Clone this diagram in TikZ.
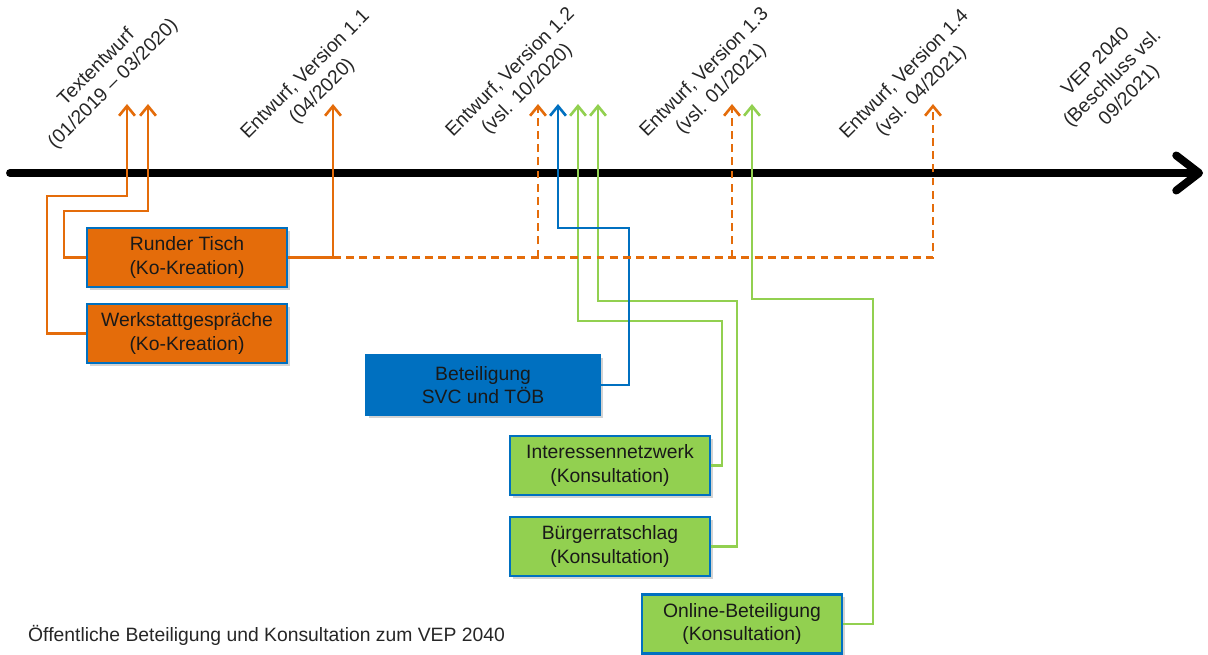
\documentclass[tikz,border=0pt]{standalone}
\usepackage{fontspec}
\setmainfont{Liberation Sans}
\usetikzlibrary{arrows.meta, positioning, shadows}

\definecolor{vepOrange}{HTML}{E46C0A}
\definecolor{vepBlue}{HTML}{0070C0}
\definecolor{vepGreen}{HTML}{92D050}

\begin{document}
\begin{tikzpicture}[
    x=0.02cm, y=-0.02cm,
    box/.style={rectangle, draw=vepBlue, line width=1.2pt, minimum width=4cm, minimum height=1.18cm, align=center, text=black!90, font=\fontsize{11}{13.5}\selectfont, drop shadow={opacity=0.35, shadow xshift=1.5pt, shadow yshift=-1.5pt}},
    kokreation/.style={box, fill=vepOrange},
    konsultation/.style={box, fill=vepGreen},
    beteiligung/.style={box, fill=vepBlue, minimum width=4.68cm, minimum height=1.2cm},
    milestone/.style={rotate=45, align=center, text=black!85, font=\fontsize{11}{13.5}\selectfont},
    pfeil/.style={line width=1.5pt, -{Straight Barb[length=5.5pt, width=9pt]}},
    opfeil/.style={pfeil, vepOrange},
    dpfeil/.style={opfeil, dash pattern=on 4.5pt off 3pt},
    bpfeil/.style={pfeil, vepBlue},
    gpfeil/.style={pfeil, vepGreen},
    zeitachse/.style={line width=4.5pt, line cap=round, -{Straight Barb[length=13pt, width=20pt, round]}}
]
    \useasboundingbox (0,0) rectangle (1208,655);

    % Zeitachse
    \coordinate (start) at (10,173);
    \coordinate (ende) at (1203,173);
    \draw[zeitachse] (start) -- (ende);

    % Meilensteine
    \node[milestone] (m0) at (105,76) {Textentwurf\\(01/2019 – 03/2020)};
    \node[milestone] (m1) at (314,83) {Entwurf, Version 1.1\\(04/2020)};
    \node[milestone] (m2) at (519,81) {Entwurf, Version 1.2\\(vsl. 10/2020)};
    \node[milestone] (m3) at (713,81) {Entwurf, Version 1.3\\(vsl. 01/2021)};
    \node[milestone] (m4) at (913,83) {Entwurf, Version 1.4\\(vsl. 04/2021)};
    \node[milestone] (m5) at (1113,79) {VEP 2040\\(Beschluss vsl.\\09/2021)};

    % Formate
    \node[kokreation] (runder) at (187,257.5) {Runder Tisch\\(Ko-Kreation)};
    \node[kokreation, below=0.3cm of runder] (werkstatt) {Werkstattgespräche\\(Ko-Kreation)};
    \node[beteiligung] (toeb) at (483,385) {Beteiligung\\SVC und TÖB};
    \node[konsultation] (netzwerk) at (610,465.5) {Interessennetzwerk\\(Konsultation)};
    \node[konsultation, below=0.4cm of netzwerk] (rat) {Bürgerratschlag\\(Konsultation)};
    \node[konsultation] (online) at (742,624) {Online-Beteiligung\\(Konsultation)};

    \node[anchor=west, text=black!85, font=\fontsize{11}{13.5}\selectfont] (titel) at (22,635) {Öffentliche Beteiligung und Konsultation zum VEP 2040};

    % Pfeilspitzen
    \coordinate (a1) at (127,104);
    \coordinate (a2) at (148,104);
    \coordinate (a3) at (333,104);
    \coordinate (a4) at (538,104);
    \coordinate (a5) at (732,104);
    \coordinate (a6) at (933,104);
    \coordinate (a7) at (558,104);
    \coordinate (a8) at (578,104);
    \coordinate (a9) at (598,104);
    \coordinate (a10) at (752,104);

    \draw[gpfeil] (netzwerk.east) -| (722,321) -| (a8);
    \draw[gpfeil] (rat.east) -| (737,301) -| (a9);
    \draw[gpfeil] (online.east) -| (873,299) -| (a10);
    \draw[bpfeil] (toeb.east) -| (629,228) -| (a7);

    \draw[opfeil] (werkstatt.west) -| (47,196) -| (a1);
    \draw[opfeil] (runder.west) -| (64,211) -| (a2);
    \draw[opfeil] (runder.east) -| (a3);
    \draw[dpfeil] (runder.east -| a3) -| (a6);
    \draw[dpfeil] (runder.east -| a4) -- (a4);
    \draw[dpfeil] (runder.east -| a5) -- (a5);
\end{tikzpicture}
\end{document}
